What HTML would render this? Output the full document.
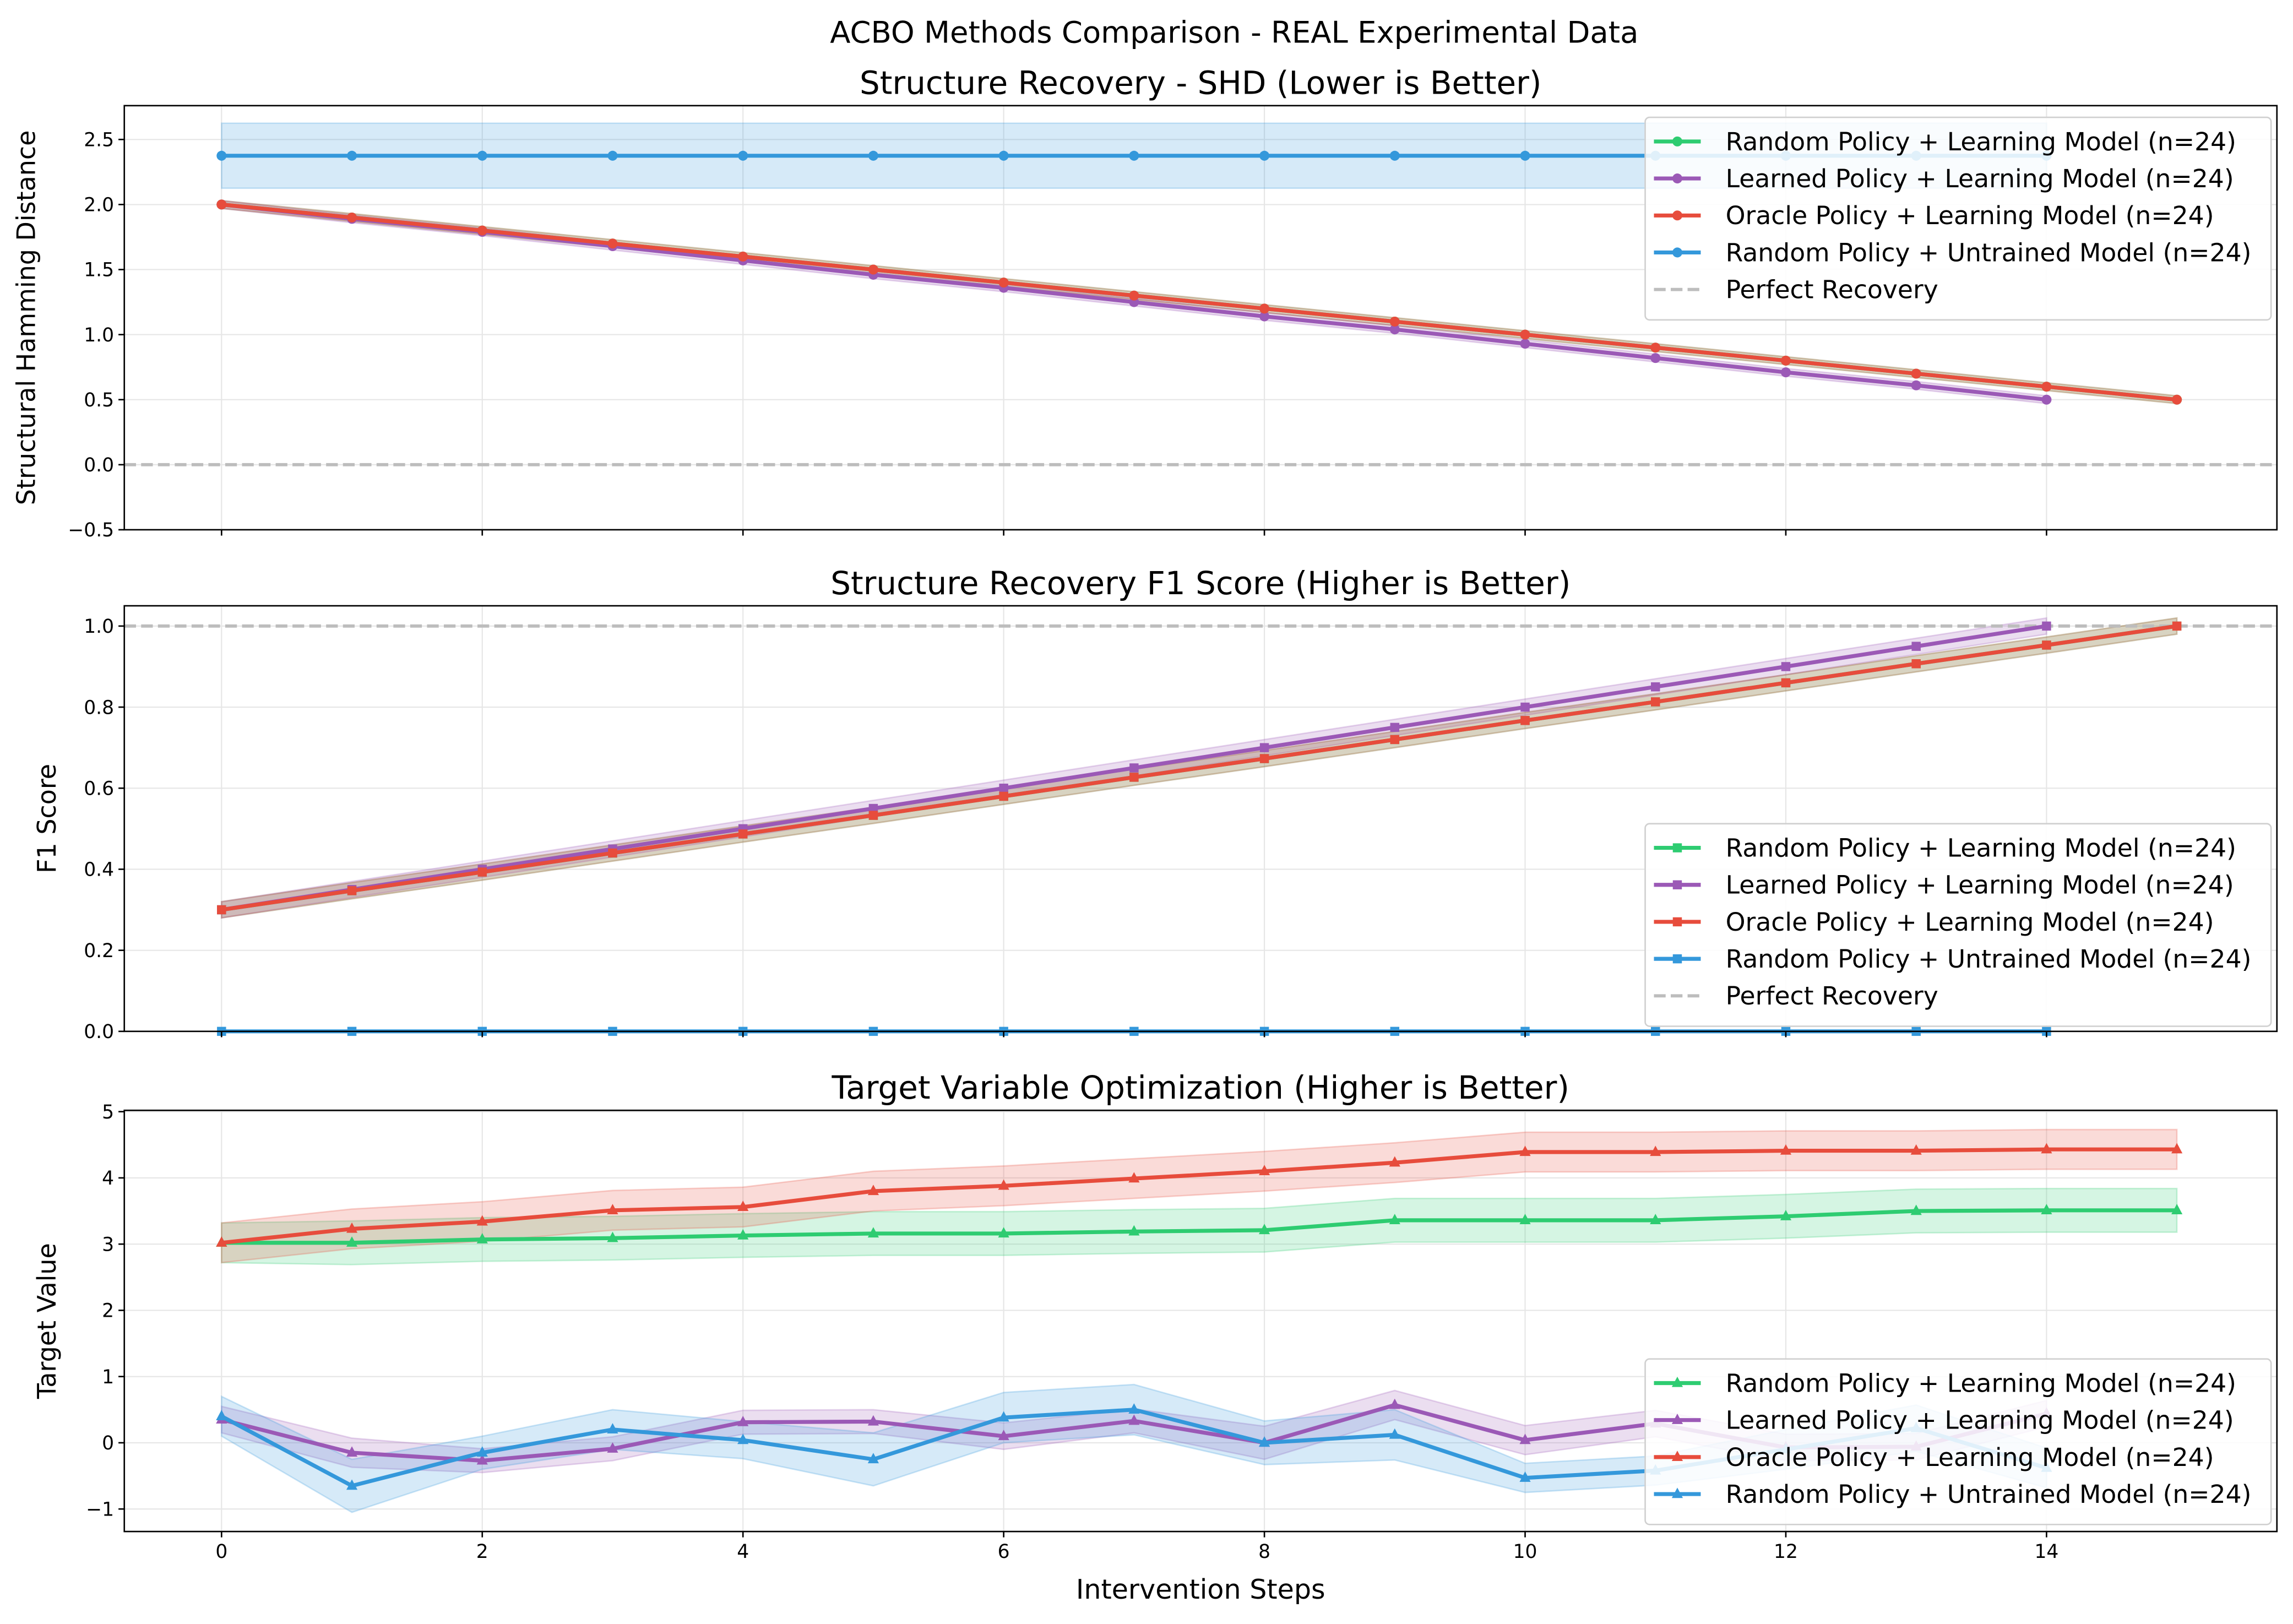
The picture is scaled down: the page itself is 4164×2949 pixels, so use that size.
<!DOCTYPE html>
<html><head><meta charset="utf-8"><style>
html,body{margin:0;padding:0;background:#fff;}
svg{display:block;font-family:"DejaVu Sans","Liberation Sans",sans-serif;}
</style></head><body>
<svg id="chart" xmlns="http://www.w3.org/2000/svg" width="4164" height="2949" viewBox="0 0 1568 1110">
<rect x="0" y="0" width="1568" height="1110" fill="#fff"/>
<text x="844" y="29" text-anchor="middle" font-size="20.5" fill="#000">ACBO Methods Comparison - REAL Experimental Data</text>
</svg>
<script>
const steps16 = [0,1,2,3,4,5,6,7,8,9,10,11,12,13,14,15];
const steps15 = [0,1,2,3,4,5,6,7,8,9,10,11,12,13,14];
const seriesNames = ["Random Policy + Learning Model (n=24)","Learned Policy + Learning Model (n=24)","Oracle Policy + Learning Model (n=24)","Random Policy + Untrained Model (n=24)"];
const xTicks = [0,2,4,6,8,10,12,14];

// Panel 1: SHD
const shdGreen = [2.0,1.9,1.8,1.7,1.6,1.5,1.4,1.3,1.2,1.1,1.0,0.9,0.8,0.7,0.6,0.5];
const shdPurple = [2.0,1.89,1.79,1.68,1.57,1.46,1.36,1.25,1.14,1.04,0.93,0.82,0.71,0.61,0.5];
const shdRed = [2.0,1.9,1.8,1.7,1.6,1.5,1.4,1.3,1.2,1.1,1.0,0.9,0.8,0.7,0.6,0.5];
const shdBlue = [2.375,2.375,2.375,2.375,2.375,2.375,2.375,2.375,2.375,2.375,2.375,2.375,2.375,2.375,2.375];
const shdErr = [0.03,0.03,0.03,0.25];
const shdTicks = [-0.5,0.0,0.5,1.0,1.5,2.0,2.5];

// Panel 2: F1
const f1Green = [0.3,0.347,0.393,0.44,0.487,0.533,0.58,0.627,0.673,0.72,0.767,0.813,0.86,0.907,0.953,1.0];
const f1Purple = [0.3,0.35,0.4,0.45,0.5,0.55,0.6,0.65,0.7,0.75,0.8,0.85,0.9,0.95,1.0];
const f1Red = [0.3,0.347,0.393,0.44,0.487,0.533,0.58,0.627,0.673,0.72,0.767,0.813,0.86,0.907,0.953,1.0];
const f1Blue = [0,0,0,0,0,0,0,0,0,0,0,0,0,0,0];
const f1Err = [0.02,0.02,0.02,0];
const f1Ticks = [0.0,0.2,0.4,0.6,0.8,1.0];

// Panel 3: target
const tgGreen = [3.02,3.02,3.07,3.09,3.13,3.16,3.16,3.19,3.21,3.36,3.36,3.36,3.42,3.50,3.51,3.51];
const tgGreenErr = [0.3,0.33,0.33,0.33,0.33,0.33,0.33,0.33,0.33,0.33,0.33,0.33,0.33,0.33,0.33,0.33];
const tgPurple = [0.35,-0.15,-0.27,-0.09,0.31,0.32,0.10,0.33,0.0,0.57,0.04,0.29,-0.07,-0.06,0.44];
const tgPurpleErr = [0.2,0.22,0.18,0.18,0.18,0.18,0.2,0.18,0.25,0.22,0.22,0.2,0.2,0.2,0.2];
const tgRed = [3.02,3.23,3.34,3.51,3.56,3.80,3.88,3.99,4.10,4.23,4.39,4.39,4.41,4.41,4.43,4.43];
const tgRedErr = [0.3,0.3,0.3,0.3,0.3,0.3,0.3,0.3,0.3,0.3,0.3,0.3,0.3,0.3,0.3,0.3];
const tgBlue = [0.4,-0.65,-0.15,0.2,0.04,-0.25,0.38,0.5,0.0,0.12,-0.53,-0.42,-0.1,0.22,-0.38];
const tgBlueErr = [0.3,0.4,0.25,0.3,0.28,0.4,0.38,0.38,0.33,0.38,0.22,0.22,0.3,0.35,0.3];
const tgTicks = [-1,0,1,2,3,4,5];

const colors = ["#2ecc71","#9b59b6","#e74c3c","#3498db"];
const NS = "http://www.w3.org/2000/svg";
const svg = document.getElementById("chart");
const X0 = 85, X1 = 1557;
function xs(v){ return 151.5 + v * 89.14; }
function mk(tag, attrs, parent){ const e = document.createElementNS(NS, tag); for (const k in attrs) e.setAttribute(k, attrs[k]); (parent||svg).appendChild(e); return e; }

function marker(g, shape, x, y, c){
  let e;
  if (shape === "circle") e = mk("circle",{cx:x,cy:y,r:3.4,fill:c},g);
  else if (shape === "square") e = mk("rect",{x:x-3.1,y:y-3.1,width:6.2,height:6.2,fill:c},g);
  else e = mk("polygon",{points:`${x},${y-4.4} ${x-3.8},${y+2.7} ${x+3.8},${y+2.7}`,fill:c},g);
  return e;
}

function panel(p){
  const ys = v => p.yb + (p.ymin - v) * (p.yb - p.yt) / (p.ymax - p.ymin);
  const g = mk("g",{});
  
  
  xTicks.forEach(t => { const l = mk("line",{x1:xs(t),x2:xs(t),y1:p.yt,y2:p.yb,stroke:"#e6e6e6","stroke-width":0.8},g);
      });
  p.ticks.forEach(t => { const l = mk("line",{x1:X0,x2:X1,y1:ys(t),y2:ys(t),stroke:"#e6e6e6","stroke-width":0.8},g);
      });
  p.series.forEach((s,i) => {
    if (!s.err) return;
    const xsArr = s.x;
    let d = "";
    xsArr.forEach((t,j) => { d += (j?"L":"M") + xs(t) + "," + ys(s.y[j] + s.err[j]); });
    for (let j = xsArr.length-1; j >= 0; j--) d += "L" + xs(xsArr[j]) + "," + ys(s.y[j] - s.err[j]);
    d += "Z";
    const b = mk("path",{d:d,fill:colors[i],"fill-opacity":0.2,stroke:colors[i],"stroke-opacity":0.25,"stroke-width":1},g);
    
    
  });
  if (p.ref !== undefined){
    const r = mk("line",{x1:X0,x2:X1,y1:ys(p.ref),y2:ys(p.ref),stroke:"#bdbdbd","stroke-width":2.2,"stroke-dasharray":"8,3.5"},g);
    
    
  }
  p.series.forEach((s,i) => {
    const pts = s.x.map((t,j) => xs(t) + "," + ys(s.y[j])).join(" ");
    const l = mk("polyline",{points:pts,fill:"none",stroke:colors[i],"stroke-width":2.7,"stroke-linejoin":"round"},g);
    
    
    s.x.forEach((t,j) => { const m = marker(g, p.shape, xs(t), ys(s.y[j]), colors[i]);
      
       });
  });
  const fr = mk("rect",{x:X0,y:p.yt,width:X1-X0,height:p.yb-p.yt,fill:"none",stroke:"#000","stroke-width":1},g);
  
  
  p.ticks.forEach(t => {
    mk("line",{x1:X0-4,x2:X0,y1:ys(t),y2:ys(t),stroke:"#000","stroke-width":1},g);
    const tx = mk("text",{x:X0-7,y:ys(t)+4.6,"text-anchor":"end","font-size":13,fill:"#000"},g);
    tx.textContent = p.fmt(t).replace("-","\u2212");
    
    
  });
  xTicks.forEach(t => {
    mk("line",{x1:xs(t),x2:xs(t),y1:p.yb,y2:p.yb+4,stroke:"#000","stroke-width":1},g);
    if (p.xlabels){
      const tx = mk("text",{x:xs(t),y:p.yb+18,"text-anchor":"middle","font-size":13,fill:"#000"},g);
      tx.textContent = String(t);
      
      
    }
  });
  const ti = mk("text",{x:(X0+X1)/2,y:p.yt-8,"text-anchor":"middle","font-size":21.8,fill:"#000"},g);
  ti.textContent = p.title;
  
  
  const yl = mk("text",{x:0,y:0,"text-anchor":"middle","font-size":17.3,fill:"#000",transform:`translate(${p.ylx},${(p.yt+p.yb)/2}) rotate(-90)`},g);
  yl.textContent = p.ylabel;
  
  
  const n = seriesNames.length + (p.ref !== undefined ? 1 : 0);
  const lg = mk("g",{},g);
  
  
  const lh = 12 + n * 25.3;
  mk("rect",{x:1125,y:p.legY,width:428,height:lh,rx:3,fill:"#fff","fill-opacity":0.85,stroke:"#d0d0d0","stroke-width":1},lg);
  seriesNames.forEach((nm,i) => {
    const cy = p.legY + 16.5 + i*25.3;
    const e = mk("g",{},lg);
    
    
    mk("line",{x1:1131,x2:1163,y1:cy,y2:cy,stroke:colors[i],"stroke-width":2.7},e);
    marker(e, p.shape, 1147, cy, colors[i]);
    const t = mk("text",{x:1180,y:cy+6,"font-size":17.2,fill:"#000"},e);
    t.textContent = nm;
  });
  if (p.ref !== undefined){
    const cy = p.legY + 16.5 + 4*25.3;
    const e = mk("g",{},lg);
    
    
    mk("line",{x1:1131,x2:1163,y1:cy,y2:cy,stroke:"#bdbdbd","stroke-width":2.2,"stroke-dasharray":"8,3.5"},e);
    const t = mk("text",{x:1180,y:cy+6,"font-size":17.2,fill:"#000"},e);
    t.textContent = "Perfect Recovery";
  }
}

panel({name:"shd-panel",yt:72,yb:362,ymin:-0.5,ymax:2.76,ticks:shdTicks,fmt:v=>v.toFixed(1),shape:"circle",
  title:"Structure Recovery - SHD (Lower is Better)",ylabel:"Structural Hamming Distance",ylx:24,ref:0,legY:80,xlabels:false,
  series:[{x:steps16,y:shdGreen,err:steps16.map(()=>shdErr[0])},{x:steps15,y:shdPurple,err:steps15.map(()=>shdErr[1])},
          {x:steps16,y:shdRed,err:steps16.map(()=>shdErr[2])},{x:steps15,y:shdBlue,err:steps15.map(()=>shdErr[3])}]});
panel({name:"f1-panel",yt:414,yb:705,ymin:0,ymax:1.05,ticks:f1Ticks,fmt:v=>v.toFixed(1),shape:"square",
  title:"Structure Recovery F1 Score (Higher is Better)",ylabel:"F1 Score",ylx:38,ref:1,legY:563,xlabels:false,
  series:[{x:steps16,y:f1Green,err:steps16.map(()=>f1Err[0])},{x:steps15,y:f1Purple,err:steps15.map(()=>f1Err[1])},
          {x:steps16,y:f1Red,err:steps16.map(()=>f1Err[2])},{x:steps15,y:f1Blue,err:null}]});
panel({name:"target-panel",yt:759,yb:1047,ymin:-1.34,ymax:5.02,ticks:tgTicks,fmt:v=>String(v),shape:"triangle",
  title:"Target Variable Optimization (Higher is Better)",ylabel:"Target Value",ylx:38,legY:929,xlabels:true,
  series:[{x:steps16,y:tgGreen,err:tgGreenErr},{x:steps15,y:tgPurple,err:tgPurpleErr},
          {x:steps16,y:tgRed,err:tgRedErr},{x:steps15,y:tgBlue,err:tgBlueErr}]});

const xl = mk("text",{x:821,y:1093,"text-anchor":"middle","font-size":18.5,fill:"#000"});
xl.textContent = "Intervention Steps";


</script>
</body></html>
